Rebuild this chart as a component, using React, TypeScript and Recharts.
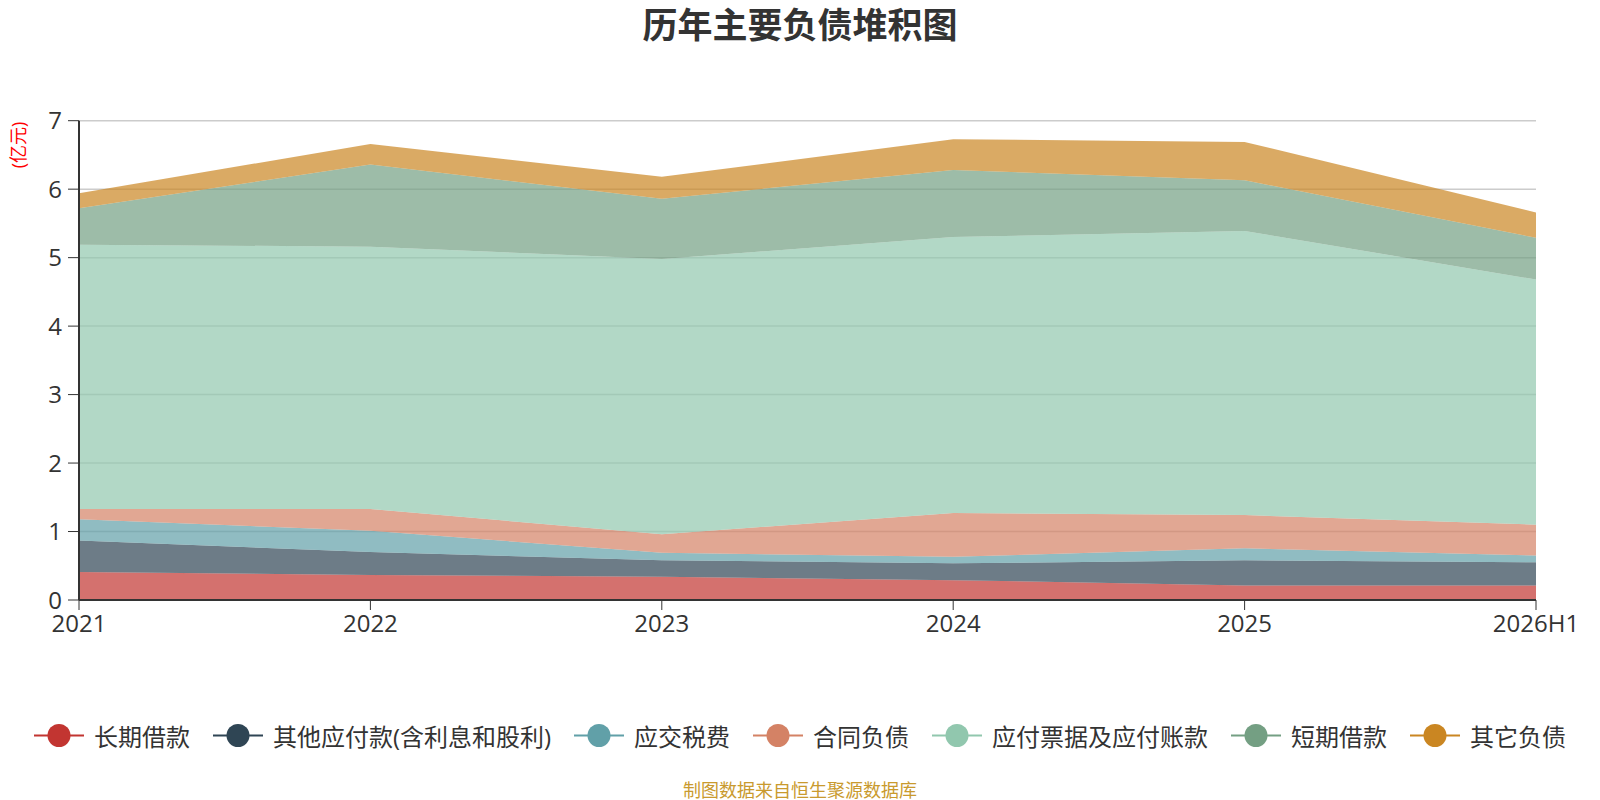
import React from "react";
import { AreaChart, Area, XAxis, YAxis, CartesianGrid } from "recharts";

const years = ["2021", "2022", "2023", "2024", "2025", "2026H1"];

// values in 亿元
const longLoan = [0.41, 0.365, 0.34, 0.29, 0.21, 0.21];
const otherPayable = [0.46, 0.335, 0.24, 0.245, 0.37, 0.34];
const taxPayable = [0.31, 0.31, 0.11, 0.095, 0.175, 0.1];
const contractLiab = [0.15, 0.32, 0.27, 0.64, 0.485, 0.45];
const notesPayable = [3.86, 3.83, 4.02, 4.03, 4.15, 3.58];
const shortLoan = [0.53, 1.2, 0.88, 0.98, 0.74, 0.61];
const otherLiab = [0.22, 0.3, 0.32, 0.45, 0.56, 0.37];

const yTicks = [0, 1, 2, 3, 4, 5, 6, 7];

const series = [
  { key: "longLoan", name: "长期借款", color: "#c23531", values: longLoan },
  { key: "otherPayable", name: "其他应付款(含利息和股利)", color: "#2f4554", values: otherPayable },
  { key: "taxPayable", name: "应交税费", color: "#61a0a8", values: taxPayable },
  { key: "contractLiab", name: "合同负债", color: "#d48265", values: contractLiab },
  { key: "notesPayable", name: "应付票据及应付账款", color: "#91c7ae", values: notesPayable },
  { key: "shortLoan", name: "短期借款", color: "#749f83", values: shortLoan },
  { key: "otherLiab", name: "其它负债", color: "#ca8622", values: otherLiab },
];

const chartData = years.map((year, i) => {
  const row: Record<string, string | number> = { year };
  series.forEach((s) => {
    row[s.key] = s.values[i];
  });
  return row;
});

const FONT = "'Open Sans', 'Noto Sans CJK SC', sans-serif";

const App: React.FC = () => {
  return (
    <div style={{ position: "relative", width: 1600, height: 800, fontFamily: FONT }}>
      <style>{`body{margin:0}`}</style>
      <div
        style={{
          position: "absolute",
          top: 3,
          left: 0,
          width: 1600,
          textAlign: "center",
          fontSize: 35,
          fontWeight: "bold",
          color: "#333",
          lineHeight: "44px",
        }}
      >
        历年主要负债堆积图
      </div>
      <div
        style={{
          position: "absolute",
          left: 17,
          top: 145,
          transform: "translate(-50%, -50%) rotate(-90deg)",
          fontSize: 18,
          color: "#ff0000",
          whiteSpace: "nowrap",
        }}
      >
        (亿元)
      </div>
      <AreaChart
        width={1600}
        height={800}
        data={chartData}
        margin={{ top: 120.7, right: 64, left: 19, bottom: 160 }}
      >
        <CartesianGrid vertical={false} stroke="#cccccc" strokeWidth={1.5} />
        <XAxis
          dataKey="year"
          tick={{ fontSize: 24, fill: "#333", fontFamily: FONT }}
          tickLine={{ stroke: "#333" }}
          axisLine={{ stroke: "#333", strokeWidth: 2 }}
          tickSize={10}
          tickMargin={5}
          height={40}
          interval={0}
        />
        <YAxis
          domain={[0, 7]}
          ticks={yTicks}
          tick={{ fontSize: 24, fill: "#333", fontFamily: FONT }}
          tickLine={{ stroke: "#333" }}
          axisLine={{ stroke: "#333", strokeWidth: 2 }}
          tickSize={11}
          tickMargin={6}
          width={60}
        />
        {series.map((s) => (
          <Area
            key={s.key}
            type="linear"
            dataKey={s.key}
            name={s.name}
            stackId="a"
            stroke="none"
            fill={s.color}
            fillOpacity={0.7}
            dot={false}
            activeDot={false}
            isAnimationActive={false}
          />
        ))}
      </AreaChart>
      <div
        style={{
          position: "absolute",
          top: 735,
          left: 0,
          width: 1600,
          transform: "translateY(-50%)",
          display: "flex",
          justifyContent: "center",
          alignItems: "center",
          gap: 23,
          fontSize: 24,
          color: "#333",
        }}
      >
        {series.map((s) => (
          <div key={s.key} style={{ display: "flex", alignItems: "center", gap: 10 }}>
            <svg width={50} height={26}>
              <line x1={0} y1={13} x2={50} y2={13} stroke={s.color} strokeWidth={2} />
              <circle cx={25} cy={13} r={11.5} fill={s.color} />
            </svg>
            <span style={{ whiteSpace: "nowrap" }}>{s.name}</span>
          </div>
        ))}
      </div>
      <div
        style={{
          position: "absolute",
          top: 789,
          left: 0,
          width: 1600,
          transform: "translateY(-50%)",
          textAlign: "center",
          fontSize: 18,
          color: "#c99a2e",
        }}
      >
        制图数据来自恒生聚源数据库
      </div>
    </div>
  );
};

export default App;
